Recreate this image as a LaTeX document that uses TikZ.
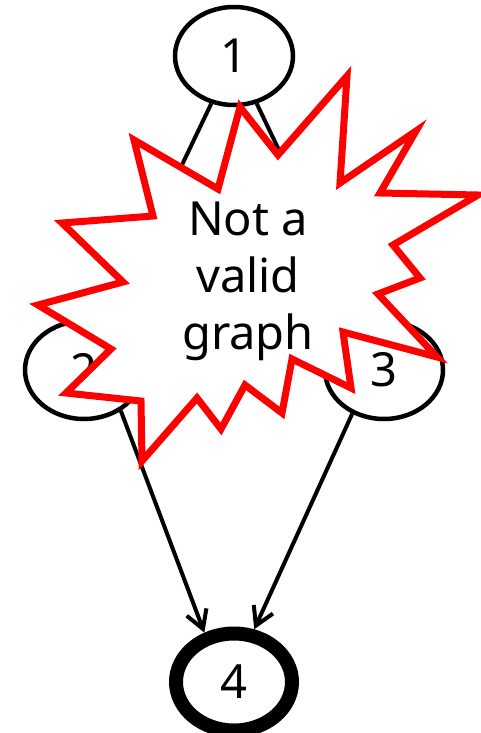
\documentclass[tikz,border=0pt]{standalone}
\usepackage{fontspec}
\newfontfamily\lblfont{Noto Sans}
\usetikzlibrary{shapes.geometric,arrows.meta}
\begin{document}
\begin{tikzpicture}[x=1pt,y=-1pt,
  gnode/.style={ellipse,draw=black,line width=4.5pt,minimum width=118pt,minimum height=98pt,inner sep=0pt,font=\lblfont\fontsize{47}{56}\selectfont},
  boldnode/.style={gnode,line width=14pt,minimum width=116pt,minimum height=97pt},
  edge/.style={draw=black,line width=4pt,-{Straight Barb[length=18pt,width=21pt]}},
  startxt/.style={anchor=base,inner sep=0pt,font=\lblfont\fontsize{47}{56}\selectfont}]
\useasboundingbox (0,0) rectangle (480,733);
\node[gnode] (n1) at (234,56) {1};
\node[gnode] (n2) at (84,370) {2};
\node[gnode] (n3) at (384,370) {3};
\node[boldnode] (n4) at (234,682) {4};
\draw[edge] (n1) -- (n2);
\draw[edge] (n1) -- (n3);
\draw[edge] (n2.-48) -- (n4.121);
\draw[edge] (n3.-126) -- (n4.69);
\draw[red,fill=white,line width=7pt,miter limit=20]
  (240,107) -- (278,155) -- (347,76) -- (340,183) -- (416,131) -- (380,193)
  -- (478,195) -- (393,245) -- (420,278) -- (378,294) -- (437,357) -- (343,332)
  -- (351,388) -- (292,359) -- (282,413) -- (245,385) -- (221,429) -- (197,398)
  -- (142,461) -- (141,401) -- (66,393) -- (111,349) -- (38,305) -- (123,282)
  -- (62,223) -- (153,216) -- (134,140) -- (218,189) -- cycle;
\node[startxt] (t1) at (248,235) {Not a};
\node[startxt] (t2) at (248,292) {valid};
\node[startxt] (t3) at (248,349) {graph};
\end{tikzpicture}
\end{document}
